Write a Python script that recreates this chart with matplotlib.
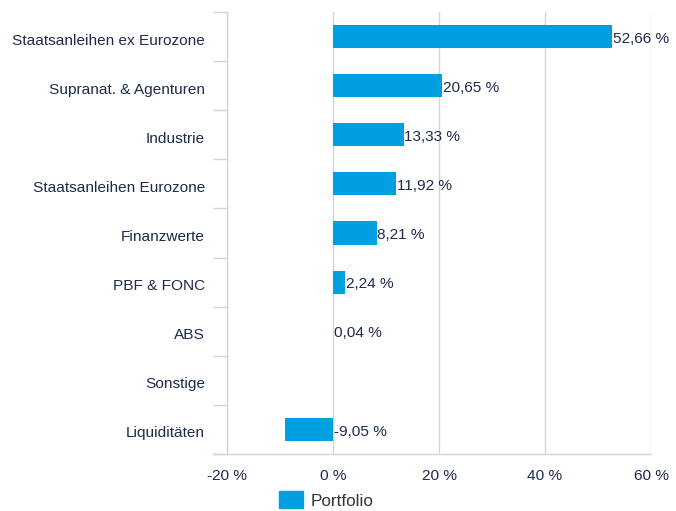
import matplotlib
matplotlib.use("Agg")
import matplotlib.pyplot as plt
import numpy as np
from matplotlib.patches import Patch

plt.rcParams["font.family"] = ["Liberation Sans", "DejaVu Sans"]

categories = [
    "Staatsanleihen ex Eurozone",
    "Supranat. & Agenturen",
    "Industrie",
    "Staatsanleihen Eurozone",
    "Finanzwerte",
    "PBF & FONC",
    "ABS",
    "Sonstige",
    "Liquiditäten",
]
values = [52.66, 20.65, 13.33, 11.92, 8.21, 2.24, 0.04, None, -9.05]
labels = ["52,66 %", "20,65 %", "13,33 %", "11,92 %", "8,21 %", "2,24 %", "0,04 %", "", "-9,05 %"]
xticks = [-20, 0, 20, 40, 60]
xticklabels = ["-20 %", "0 %", "20 %", "40 %", "60 %"]

BAR = "#009fe0"
TEXT = "#1c2b4c"
GRID = "#c9d5e8"
FS = 11.1

fig = plt.figure(figsize=(6.76, 5.11), dpi=100)
ax = fig.add_axes([227 / 676, 1 - 454 / 511, (651 - 227) / 676, (454 - 12) / 511])

y = np.arange(len(categories))
vals = [v if v is not None else 0 for v in values]
ax.barh(y, vals, height=0.47, color=BAR, zorder=3)
for yi, v, lab in zip(y, vals, labels):
    if lab:
        ax.annotate(lab, (max(v, 0), yi), xytext=(0.5, -1.5), textcoords="offset points",
                    va="center", ha="left", fontsize=FS, color=TEXT, zorder=4)

ax.set_xlim(-20, 60)
ax.set_ylim(len(categories) - 0.5, -0.5)
ax.set_yticks(y + 0.05)
ax.set_yticklabels(categories)
ax.set_yticks(np.arange(-0.5, len(categories), 1.0), minor=True)
ax.tick_params(axis="y", which="major", length=0, pad=16, labelsize=FS, labelcolor=TEXT)
ax.tick_params(axis="y", which="minor", length=10, width=1, color=GRID)
ax.set_xticks(xticks)
ax.set_xticklabels(xticklabels)
ax.tick_params(axis="x", length=0, pad=11, labelsize=FS, labelcolor=TEXT)

ax.grid(axis="x", color=GRID, lw=1, zorder=0)
for s in ["top", "right"]:
    ax.spines[s].set_visible(False)
for s in ["left", "bottom"]:
    ax.spines[s].set_color(GRID)
    ax.spines[s].set_linewidth(1)
ax.spines["bottom"].set_bounds(-20, 60)

# extend bottom axis line slightly to the left like the tick marks
ax.plot([-22.6, -20], [len(categories) - 0.5] * 2, color=GRID, lw=1, clip_on=False)

fig.legend(handles=[Patch(color=BAR, label="Portfolio")], loc="center",
           bbox_to_anchor=(326 / 676, 1 - 500 / 511), frameon=False, fontsize=12.3,
           handlelength=1.4, handleheight=1.1, handletextpad=0.45, labelcolor="#333333")

fig.savefig("out.png", dpi=100)
